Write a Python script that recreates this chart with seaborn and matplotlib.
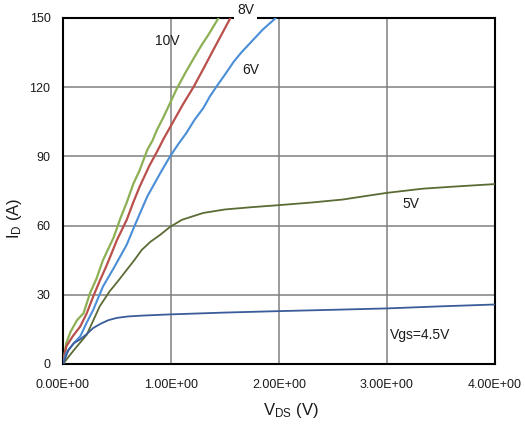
import numpy as np
import pandas as pd
import seaborn as sns
import matplotlib
matplotlib.use("Agg")
import matplotlib.pyplot as plt

# Output characteristics: drain current vs drain-source voltage for several gate voltages
vds_10v = [0, 0.03, 0.07, 0.13, 0.19, 0.25, 0.31, 0.37, 0.42, 0.47, 0.53, 0.59, 0.65,
           0.71, 0.78, 0.83, 0.87, 0.93, 0.99, 1.05, 1.13, 1.21, 1.28, 1.35, 1.44]
id_10v = [0, 9, 14, 19, 22, 30.7, 37, 45, 50, 55, 63, 70, 78,
          84, 92.8, 97, 101.5, 107, 113, 119, 126, 132.5, 138, 143, 150]

vds_8v = [0, 0.03, 0.09, 0.16, 0.22, 0.28, 0.34, 0.40, 0.45, 0.50, 0.59, 0.65,
          0.71, 0.80, 0.87, 0.93, 1.02, 1.11, 1.21, 1.30, 1.39, 1.47, 1.55]
id_8v = [0, 7.6, 12, 16.3, 22, 29.3, 36, 42.3, 48, 53.8, 62.5, 70,
         76.9, 86, 92, 97.5, 105, 112.5, 120.2, 128, 136, 143, 150]

vds_6v = [0, 0.03, 0.10, 0.16, 0.22, 0.28, 0.37, 0.47, 0.59, 0.66, 0.78, 0.90, 0.99,
          1.07, 1.14, 1.22, 1.30, 1.36, 1.42, 1.50, 1.58, 1.65, 1.73, 1.85, 1.97]
id_6v = [0, 4.8, 9, 12, 18, 23.5, 33.6, 41.6, 51.7, 59.6, 72.6, 82.7, 89.9,
         95.5, 100, 106, 111, 116, 120.2, 125.5, 131, 135, 139, 145, 150]

vds_5v = [0, 0.10, 0.22, 0.34, 0.43, 0.51, 0.59, 0.66, 0.73, 0.81, 0.90, 0.99,
          1.10, 1.30, 1.50, 1.75, 1.98, 2.30, 2.59, 2.80, 3.00, 3.33, 3.65, 4.00]
id_5v = [0, 6, 12.7, 25, 31.4, 36, 40.8, 45, 49.5, 53, 56, 59.4,
         62.5, 65.5, 67, 68, 68.8, 70, 71.3, 72.8, 74.2, 76, 77, 78]

vds_45v = [0, 0.05, 0.10, 0.16, 0.22, 0.28, 0.35, 0.42, 0.50, 0.60, 0.74, 0.99,
           1.50, 1.98, 2.50, 3.00, 3.50, 4.00]
id_45v = [0, 6, 9, 10.7, 13, 15.6, 17.5, 19, 20, 20.6, 21, 21.5,
          22.3, 22.9, 23.5, 24.1, 25, 25.8]

series_names = ["10V", "8V", "6V", "5V", "4.5V"]
series_x = [vds_10v, vds_8v, vds_6v, vds_5v, vds_45v]
series_y = [id_10v, id_8v, id_6v, id_5v, id_45v]

x_ticks = [0, 1, 2, 3, 4]
y_ticks = [0, 30, 60, 90, 120, 150]

colors = {"10V": "#8DB054", "8V": "#B9504C", "6V": "#4A8ED8",
          "5V": "#5B6B34", "4.5V": "#3A5C9A"}
widths = {"10V": 1.6, "8V": 1.6, "6V": 1.5, "5V": 1.3, "4.5V": 1.3}

frames = []
for name, xs, ys in zip(series_names, series_x, series_y):
    frames.append(pd.DataFrame({"Vds": xs, "Id": ys, "Vgs": name}))
df = pd.concat(frames, ignore_index=True)

sns.set_style("white")
plt.rcParams["font.family"] = ["Liberation Sans", "DejaVu Sans"]
plt.rcParams["mathtext.default"] = "regular"

fig = plt.figure(figsize=(5.25, 4.3), dpi=100)
ax = fig.add_axes([63 / 525, 1 - 364 / 430, (495 - 63) / 525, (364 - 18) / 430])

for name in series_names:
    sub = df[df["Vgs"] == name]
    sns.lineplot(data=sub, x="Vds", y="Id", sort=False, estimator=None,
                 color=colors[name], linewidth=widths[name], ax=ax, zorder=3)

ax.set_xlim(0, 4)
ax.set_ylim(0, 150)
ax.set_xticks(x_ticks)
ax.set_yticks(y_ticks)
ax.set_xticklabels([f"{v:.2E}" for v in x_ticks])
ax.set_yticklabels([str(v) for v in y_ticks])
ax.tick_params(axis="both", length=0, labelsize=9, colors="#1a1a1a")
ax.tick_params(axis="x", pad=11)
ax.tick_params(axis="y", pad=9)
ax.grid(True, color="#808080", linewidth=1.1)
ax.set_axisbelow(True)
for sp in ax.spines.values():
    sp.set_color("black")
    sp.set_linewidth(1.5)
    sp.set_visible(True)

ax.set_xlabel("")
ax.set_ylabel("")
fig.text(291 / 525, 1 - 410 / 430, r"V$_{DS}$ (V)", ha="center", va="center",
         fontsize=12, color="#1a1a1a")
fig.text(15 / 525, 1 - 218 / 430, r"I$_{D}$ (A)", ha="center", va="center",
         rotation=90, fontsize=12, color="#1a1a1a")

# curve annotations
label_pos = {"10V": (0.97, 140), "8V": (1.69, 153.5), "6V": (1.74, 127.5),
             "5V": (3.22, 69.5), "Vgs=4.5V": (3.31, 12.5)}
for text, (x, y) in label_pos.items():
    kw = {}
    if text == "8V":
        kw["bbox"] = dict(facecolor="white", edgecolor="none", pad=2.5)
    ax.text(x, y, text, ha="center", va="center", fontsize=10,
            color="#1a1a1a", zorder=10, clip_on=False, **kw)

fig.savefig("out.png", dpi=100)
